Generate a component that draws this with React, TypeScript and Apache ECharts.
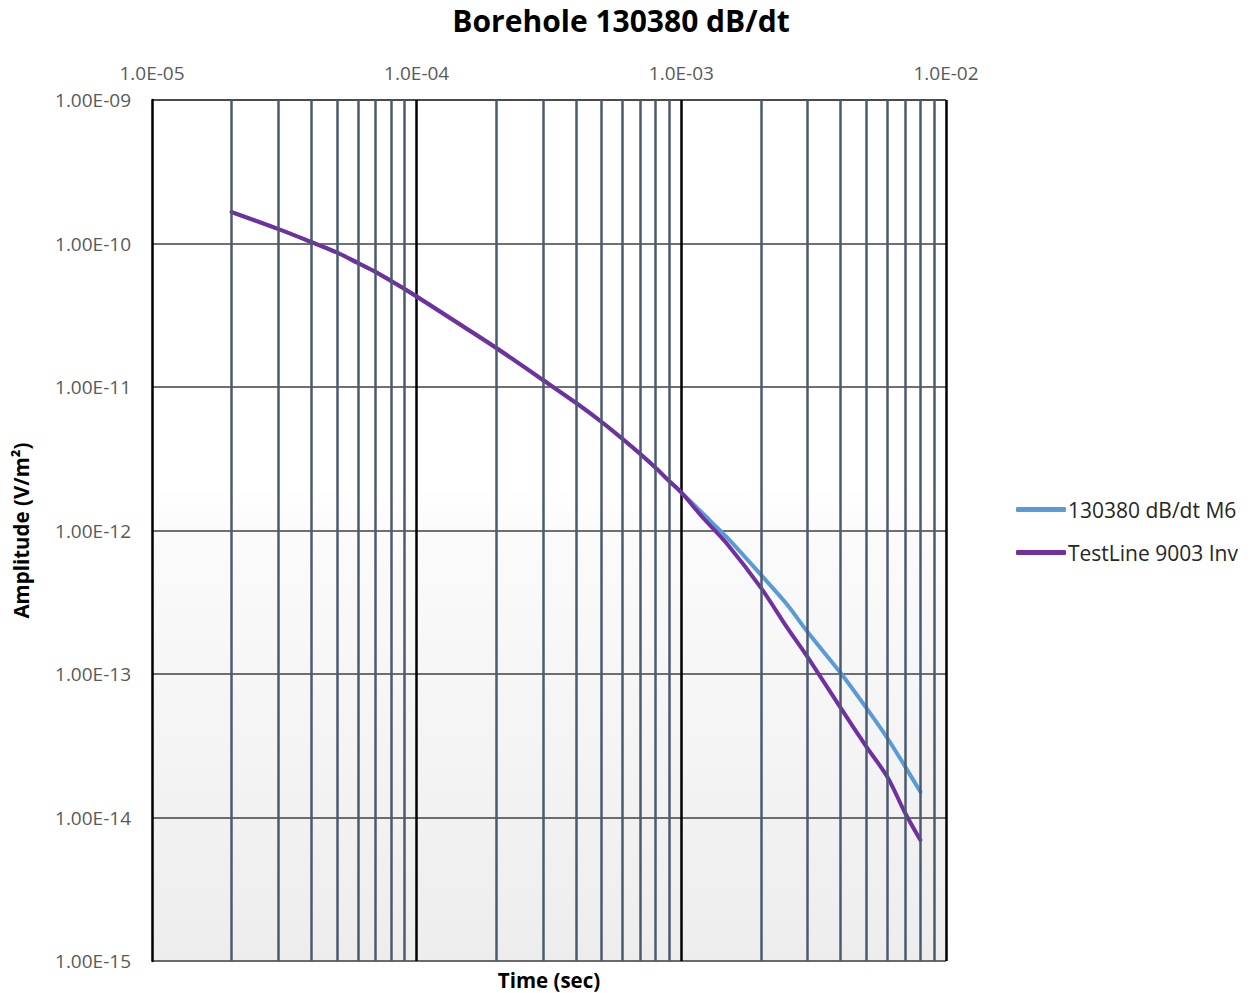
import React, { useEffect, useRef } from "react";
import * as echarts from "echarts";

const TITLE = "Borehole 130380 dB/dt";
const X_NAME = "Time (sec)";
const Y_NAME = "Amplitude (V/m²)";
const SERIES_NAMES = ["130380 dB/dt M6", "TestLine 9003 Inv"];

const TIMES = [
  2e-5, 3e-5, 4e-5, 5e-5, 6e-5, 7e-5, 8e-5, 9e-5, 1e-4, 1.5e-4, 2e-4, 3e-4, 4e-4, 5e-4, 6e-4, 7e-4, 8e-4,
  9e-4, 1e-3, 1.2e-3, 1.5e-3, 2e-3, 2.5e-3, 3e-3, 4e-3, 5e-3, 6e-3, 7e-3, 8e-3,
];
const M6 = [
  1.657e-10, 1.262e-10, 1.024e-10, 8.65e-11, 7.31e-11, 6.33e-11, 5.48e-11, 4.82e-11, 4.27e-11, 2.64e-11,
  1.87e-11, 1.119e-11, 7.74e-12, 5.7e-12, 4.34e-12, 3.41e-12, 2.73e-12, 2.21e-12, 1.84e-12, 1.324e-12,
  8.8e-13, 4.9e-13, 3.07e-13, 1.96e-13, 1.016e-13, 5.8e-14, 3.58e-14, 2.27e-14, 1.51e-14,
];
const INV = [
  1.657e-10, 1.262e-10, 1.024e-10, 8.65e-11, 7.31e-11, 6.33e-11, 5.48e-11, 4.82e-11, 4.27e-11, 2.64e-11,
  1.87e-11, 1.119e-11, 7.74e-12, 5.7e-12, 4.34e-12, 3.41e-12, 2.73e-12, 2.21e-12, 1.84e-12, 1.242e-12,
  7.93e-13, 3.98e-13, 2.13e-13, 1.31e-13, 5.8e-14, 3.12e-14, 1.92e-14, 1.08e-14, 6.97e-15,
];
const X_MINOR_LINES = [
  2e-5, 3e-5, 4e-5, 5e-5, 6e-5, 7e-5, 8e-5, 9e-5,
  2e-4, 3e-4, 4e-4, 5e-4, 6e-4, 7e-4, 8e-4, 9e-4,
  2e-3, 3e-3, 4e-3, 5e-3, 6e-3, 7e-3, 8e-3, 9e-3,
];
const Y_MIN = 1e-15;
const Y_MAX = 1e-9;
const X_MIN = 1e-5;
const X_MAX = 1e-2;

const FONT = "'Open Sans', 'Noto Sans', sans-serif";

function fmtExp(v: number, digits: number): string {
  const s = v.toExponential(digits);
  const [m, e] = s.split("e");
  const n = Math.abs(parseInt(e, 10));
  return m + "E" + (e[0] === "-" ? "-" : "+") + String(n).padStart(2, "0");
}

export default function App() {
  const ref = useRef<HTMLDivElement>(null);
  useEffect(() => {
    if (!ref.current) return;
    const chart = echarts.init(ref.current, undefined, { renderer: "svg" });
    const pairs = (ys: number[]) => TIMES.map((t, i) => [t, ys[i]]);
    chart.setOption({
      animation: false,
      backgroundColor: "#ffffff",
      title: {
        text: TITLE,
        left: 616,
        textAlign: "center",
        top: 0,
        textStyle: { fontFamily: FONT, fontSize: 30, fontWeight: "bold", color: "#000000" },
      },
      legend: {
        orient: "vertical",
        left: 1016,
        top: 499,
        padding: 0,
        itemWidth: 50,
        itemHeight: 5,
        itemGap: 22,
        icon: "roundRect",
        data: SERIES_NAMES,
        textStyle: { fontFamily: FONT, fontSize: 21, color: "#262626", padding: [0, 0, 0, -3] },
      },
      grid: {
        left: 152,
        top: 100,
        right: 307,
        bottom: 32,
        outerBoundsMode: "none",
        show: true,
        borderColor: "#d6d6d6",
        borderWidth: 1,
        backgroundColor: {
          type: "linear",
          x: 0,
          y: 0,
          x2: 0,
          y2: 1,
          colorStops: [
            { offset: 0, color: "#ffffff" },
            { offset: 0.45, color: "#ffffff" },
            { offset: 0.5, color: "#fbfbfb" },
            { offset: 1, color: "#ededed" },
          ],
        },
      },
      xAxis: [
        {
          type: "log",
          logBase: 10,
          min: X_MIN,
          max: X_MAX,
          position: "top",
          axisLine: { show: false },
          axisTick: { show: false },
          axisLabel: {
            margin: 18,
            fontFamily: FONT,
            fontSize: 19,
            color: "#595959",
            formatter: (v: number) => fmtExp(v, 1),
          },
          splitLine: {
            show: true,
            showMinLine: false,
            showMaxLine: false,
            lineStyle: { color: "#000000", width: 2.5 },
          },
        },
        {
          type: "log",
          logBase: 10,
          min: X_MIN,
          max: X_MAX,
          position: "bottom",
          name: X_NAME,
          nameLocation: "middle",
          nameGap: 8,
          nameTextStyle: {
            fontFamily: FONT,
            fontSize: 20.5,
            fontWeight: "bold",
            color: "#000000",
            verticalAlign: "top",
          },
          axisLine: { show: false },
          axisTick: { show: false },
          axisLabel: { show: false },
          splitLine: { show: false },
        },
      ],
      yAxis: {
        type: "log",
        logBase: 10,
        min: Y_MIN,
        max: Y_MAX,
        name: Y_NAME,
        nameLocation: "middle",
        nameGap: 121,
        nameRotate: 90,
        nameTextStyle: { fontFamily: FONT, fontSize: 20.5, fontWeight: "bold", color: "#000000" },
        axisLine: { show: true, lineStyle: { color: "#000000", width: 2.5 } },
        axisTick: { show: false },
        axisLabel: {
          margin: 21,
          fontFamily: FONT,
          fontSize: 19,
          color: "#595959",
          formatter: (v: number) => fmtExp(v, 2),
        },
        splitLine: { show: true, lineStyle: { color: "#404040", width: 1.5 } },
      },
      series: [
        {
          name: "minor-grid",
          type: "line",
          xAxisIndex: 0,
          data: [],
          showSymbol: false,
          silent: true,
          z: 1,
          markLine: {
            silent: true,
            symbol: ["none", "none"],
            label: { show: false },
            emphasis: { disabled: true },
            lineStyle: { color: "#4b5a70", width: 2.5, type: "solid" },
            data: X_MINOR_LINES.map((v) => [{ coord: [v, Y_MIN] }, { coord: [v, Y_MAX] }]),
          },
        },
        {
          name: SERIES_NAMES[0],
          type: "line",
          xAxisIndex: 0,
          data: pairs(M6),
          showSymbol: false,
          symbol: "none",
          smooth: 0.3,
          color: "#5b9bd5",
          lineStyle: { color: "#5b9bd5", width: 4, cap: "round" },
          z: 3,
        },
        {
          name: SERIES_NAMES[1],
          type: "line",
          xAxisIndex: 0,
          data: pairs(INV),
          showSymbol: false,
          symbol: "none",
          smooth: 0.3,
          color: "#7030a0",
          lineStyle: { color: "#7030a0", width: 4, cap: "round" },
          z: 4,
        },
      ],
    });
    return () => chart.dispose();
  }, []);
  return (
    <div
      ref={ref}
      style={{ position: "fixed", left: 0, top: 0, width: 1253, height: 993 }}
    />
  );
}
